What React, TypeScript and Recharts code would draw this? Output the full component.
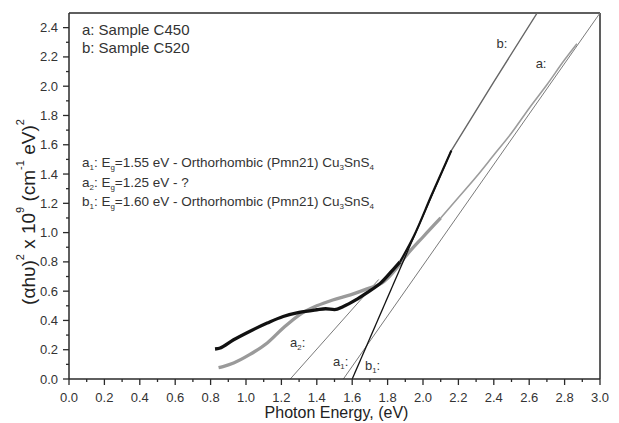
import { LineChart, Line, XAxis, YAxis, ReferenceLine, ReferenceDot } from 'recharts';

const FONT = '"Liberation Sans", Arial, Helvetica, sans-serif';
const AXIS = '#2a2a2a';

// sample b: C520 (black), low-energy part, steep part, thin continuation
const bEnergy = [0.825, 0.85, 0.93, 1.02, 1.12, 1.21, 1.3, 1.4, 1.45, 1.5, 1.55, 1.62, 1.68, 1.76, 1.83, 1.87];
const bValue = [0.205, 0.21, 0.268, 0.325, 0.382, 0.427, 0.455, 0.473, 0.48, 0.474, 0.495, 0.54, 0.587, 0.655, 0.746, 0.8];
const bSteepEnergy = [1.87, 1.95, 2.05, 2.16];
const bSteepValue = [0.8, 0.98, 1.26, 1.56];
const bTailEnergy = [2.16, 2.4, 2.645];
const bTailValue = [1.56, 2.03, 2.5];

// sample a: C450 (grey)
const aEnergy = [0.845, 0.87, 0.93, 1.02, 1.12, 1.21, 1.3, 1.4, 1.49, 1.59, 1.68, 1.78, 1.85, 1.9, 2.0, 2.1];
const aValue = [0.078, 0.085, 0.109, 0.166, 0.246, 0.348, 0.437, 0.5, 0.54, 0.575, 0.614, 0.666, 0.755, 0.835, 0.97, 1.1];
const aTailEnergy = [2.1, 2.2, 2.3, 2.4, 2.5, 2.6, 2.7, 2.8, 2.87];
const aTailValue = [1.1, 1.24, 1.38, 1.53, 1.68, 1.85, 2.01, 2.18, 2.29];

// linear fits (band gap extrapolations)
const a1Energy = [1.55, 3.0];
const a1Value = [0, 2.5];
const a2Energy = [1.25, 1.75];
const a2Value = [0, 0.68];
const b1Energy = [1.6, 2.16];
const b1Value = [0, 1.56];

const xTicks = Array.from({ length: 31 }, (_, i) => i / 10);
const yTicks = Array.from({ length: 25 }, (_, i) => i / 10);

const toRows = (xs: number[], ys: number[]) => xs.map((x, i) => ({ x, y: ys[i] }));

function XTick({ x, y, payload }: any) {
  const v = payload.value;
  const major = Math.round(v * 10) % 2 === 0;
  return (
    <g>
      <line x1={x} x2={x} y1={y} y2={y + (major ? 6 : 3)} stroke={AXIS} strokeWidth={1.3} />
      {major && (
        <text x={x} y={y + 23} textAnchor="middle" fontSize={13} fill="#333" fontFamily={FONT}>
          {v.toFixed(1)}
        </text>
      )}
    </g>
  );
}

function YTick({ x, y, payload }: any) {
  const v = payload.value;
  const major = Math.round(v * 10) % 2 === 0;
  return (
    <g>
      <line x1={x - (major ? 6 : 3)} x2={x} y1={y} y2={y} stroke={AXIS} strokeWidth={1.3} />
      {major && (
        <text x={x - 11} y={y + 4.5} textAnchor="end" fontSize={13} fill="#333" fontFamily={FONT}>
          {v.toFixed(1)}
        </text>
      )}
    </g>
  );
}

function YTitle({ viewBox }: any) {
  const vb = viewBox || { x: 0, y: 13, width: 69, height: 366 };
  const cx = vb.x + 28;
  const cy = vb.y + vb.height / 2 + 16;
  return (
    <text
      x={cx}
      y={cy}
      transform={`rotate(-90 ${cx} ${cy})`}
      textAnchor="middle"
      dominantBaseline="central"
      fontSize={19}
      fill="#222"
      fontFamily={FONT}
    >
      (αhυ)<tspan dy={-8} fontSize={11}>2</tspan>
      <tspan dy={8}> x 10</tspan>
      <tspan dy={-8} fontSize={11}>9</tspan>
      <tspan dy={8}> (cm</tspan>
      <tspan dy={-8} fontSize={11}>-1</tspan>
      <tspan dy={8}> eV)</tspan>
      <tspan dy={-8} fontSize={11}>2</tspan>
    </text>
  );
}

function XTitle({ viewBox }: any) {
  const vb = viewBox || { x: 69, y: 379, width: 531, height: 44 };
  return (
    <text x={vb.x + vb.width / 2 + 2} y={vb.y + 39} textAnchor="middle" fontSize={16} fill="#222" fontFamily={FONT}>
      Photon Energy, (eV)
    </text>
  );
}

// text with subscript, e.g. a1:
const subLabel = (main: string, sub: string, size: number) => (props: any) => (
  <text x={props.cx} y={props.cy} fontSize={size} fill="#333" fontFamily={FONT}>
    {main}
    <tspan dy={3} fontSize={size * 0.6}>{sub}</tspan>
    <tspan dy={-3}>:</tspan>
  </text>
);

const plainLabel = (txt: string, size: number, anchor: 'start' | 'middle' = 'start') => (props: any) => (
  <text x={props.cx} y={props.cy} fontSize={size} fill="#333" fontFamily={FONT} textAnchor={anchor}>
    {txt}
  </text>
);

const noteLine = (letter: string, sub: string, eg: string, rest: string, withCompound: boolean) => (props: any) => {
  const s = 13.5;
  const ss = 8;
  return (
    <text x={props.cx} y={props.cy} fontSize={s} fill="#333" fontFamily={FONT}>
      {letter}
      <tspan dy={3} fontSize={ss}>{sub}</tspan>
      <tspan dy={-3}>: E</tspan>
      <tspan dy={3} fontSize={ss}>g</tspan>
      <tspan dy={-3}>{`=${eg} eV - ${rest}`}</tspan>
      {withCompound && (
        <>
          <tspan> Cu</tspan>
          <tspan dy={3} fontSize={ss}>3</tspan>
          <tspan dy={-3}>SnS</tspan>
          <tspan dy={3} fontSize={ss}>4</tspan>
        </>
      )}
    </text>
  );
};

const line = (xs: number[], ys: number[], stroke: string, width: number, type: 'linear' | 'monotone') => (
  <Line
    data={toRows(xs, ys)}
    dataKey="y"
    type={type}
    stroke={stroke}
    strokeWidth={width}
    dot={false}
    activeDot={false}
    isAnimationActive={false}
  />
);

export default function App() {
  return (
    <div style={{ position: 'absolute', left: 0, top: 0, background: '#fff' }}>
      <LineChart width={619} height={423} margin={{ top: 13, right: 19, bottom: 0, left: 0 }}>
        <XAxis
          type="number"
          dataKey="x"
          domain={[0, 3]}
          ticks={xTicks}
          interval={0}
          height={44}
          tickSize={0}
          tickMargin={0}
          tickLine={false}
          tick={<XTick />}
          axisLine={{ stroke: AXIS, strokeWidth: 1.5 }}
          allowDataOverflow
          label={<XTitle />}
        />
        <YAxis
          type="number"
          dataKey="y"
          domain={[0, 2.5]}
          ticks={yTicks}
          interval={0}
          width={69}
          tickSize={0}
          tickMargin={0}
          tickLine={false}
          tick={<YTick />}
          axisLine={{ stroke: AXIS, strokeWidth: 1.5 }}
          allowDataOverflow
          label={<YTitle />}
        />
        <ReferenceLine y={2.5} stroke={AXIS} strokeWidth={1.5} />
        <ReferenceLine x={3} stroke={AXIS} strokeWidth={1.5} />

        {line(a1Energy, a1Value, '#7a7a7a', 1, 'linear')}
        {line(a2Energy, a2Value, '#7a7a7a', 1, 'linear')}
        {line(aTailEnergy, aTailValue, '#9c9c9c', 1.6, 'monotone')}
        {line(aEnergy, aValue, '#9a9a9a', 3.3, 'monotone')}
        {line(bTailEnergy, bTailValue, '#666', 1.4, 'monotone')}
        {line(b1Energy, b1Value, '#111', 1.3, 'linear')}
        {line(bSteepEnergy, bSteepValue, '#111', 2.2, 'monotone')}
        {line(bEnergy, bValue, '#111', 3.3, 'monotone')}

        <ReferenceDot x={0.073} y={2.35} r={0} shape={plainLabel('a: Sample C450', 15)} />
        <ReferenceDot x={0.073} y={2.227} r={0} shape={plainLabel('b: Sample C520', 15)} />
        <ReferenceDot x={0.073} y={1.449} r={0} shape={noteLine('a', '1', '1.55', 'Orthorhombic (Pmn21)', true)} />
        <ReferenceDot x={0.073} y={1.313} r={0} shape={noteLine('a', '2', '1.25', '?', false)} />
        <ReferenceDot x={0.073} y={1.183} r={0} shape={noteLine('b', '1', '1.60', 'Orthorhombic (Pmn21)', true)} />

        <ReferenceDot x={2.446} y={2.261} r={0} shape={plainLabel('b:', 13, 'middle')} />
        <ReferenceDot x={2.667} y={2.125} r={0} shape={plainLabel('a:', 13, 'middle')} />
        <ReferenceDot x={1.249} y={0.22} r={0} shape={subLabel('a', '2', 13)} />
        <ReferenceDot x={1.492} y={0.091} r={0} shape={subLabel('a', '1', 13)} />
        <ReferenceDot x={1.672} y={0.064} r={0} shape={subLabel('b', '1', 13)} />
      </LineChart>
    </div>
  );
}
